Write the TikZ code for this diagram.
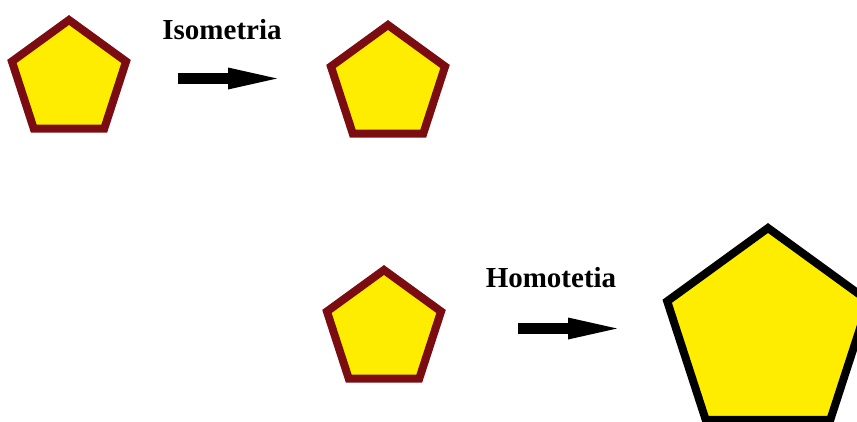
\documentclass[tikz,border=0pt]{standalone}
\usepackage{fontspec}
\setmainfont{Liberation Serif}
\usepackage{xcolor}
\usetikzlibrary{arrows.meta,shapes.geometric}
\definecolor{penyellow}{RGB}{255,237,0}
\definecolor{penmaroon}{RGB}{122,12,18}

\begin{document}
\begin{tikzpicture}[x=1pt,y=-1pt,
  penta/.style={regular polygon,regular polygon sides=5,inner sep=0pt,line width=8pt,
    fill=penyellow,draw=penmaroon,minimum size=120pt},
  lab/.style={font=\bfseries\fontsize{29}{30}\selectfont,inner sep=0pt,anchor=base},
  fat/.style={line width=11pt,-{Triangle[length=49pt,width=22pt,line width=0pt]}}]
\useasboundingbox (0,0) rectangle (857,421);
\clip (0,0) rectangle (857,421);
\node[penta] (P1) at (69,80) {};
\node[penta] (P2) at (388,85) {};
\node[penta] (P3) at (384,330) {};
\node[penta,draw=black,minimum size=212pt] (P4) at (768,334) {};
\node[lab] (iso) at (222,39) {Isometria};
\node[lab] (hom) at (551,287) {Homotetia};
\coordinate (i1) at (178,78.5);
\coordinate (i2) at (277,78.5);
\coordinate (h1) at (518,328.5);
\coordinate (h2) at (617,328.5);
\draw[fat] (i1) -- (i2);
\draw[fat] (h1) -- (h2);
\end{tikzpicture}
\end{document}
